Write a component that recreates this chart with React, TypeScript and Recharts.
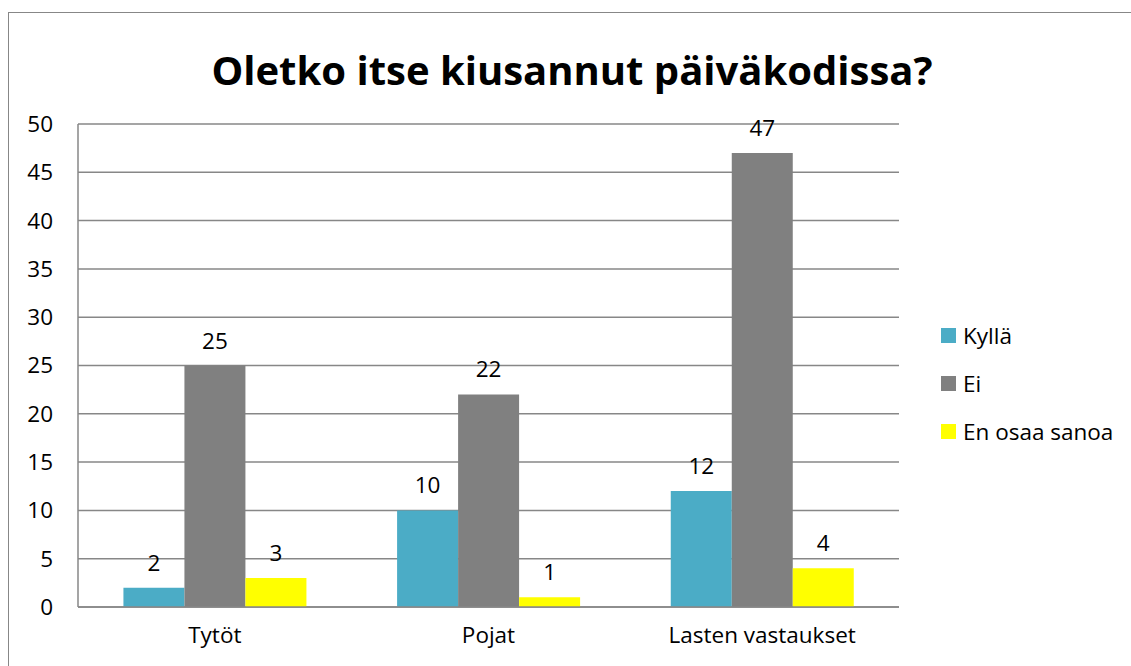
import React from "react";
import { BarChart, Bar, XAxis, YAxis, CartesianGrid, LabelList } from "recharts";

const categories = ["Tytöt", "Pojat", "Lasten vastaukset"];
const kylla = [2, 10, 12];
const ei = [25, 22, 47];
const enOsaa = [3, 1, 4];
const yTicks = [0, 5, 10, 15, 20, 25, 30, 35, 40, 45, 50];

const series = [
  { key: "kylla", name: "Kyllä", color: "#4BACC6" },
  { key: "ei", name: "Ei", color: "#808080" },
  { key: "enOsaa", name: "En osaa sanoa", color: "#FFFF00" },
];

const data = categories.map((c, i) => ({
  name: c,
  kylla: kylla[i],
  ei: ei[i],
  enOsaa: enOsaa[i],
}));

const FONT = "'Open Sans', 'Noto Sans', sans-serif";
const GRID = "#878787";
const FS = 22.5;

// legend kept outside the chart so it doesn't eat plot height
function LegendBox() {
  return (
    <div style={{ fontFamily: FONT, fontSize: FS, color: "#000" }}>
      {series.map((s) => (
        <div key={s.key} style={{ display: "flex", alignItems: "center", height: 48 }}>
          <span style={{ display: "inline-block", width: 15, height: 15, background: s.color, marginRight: 7 }} />
          <span>{s.name}</span>
        </div>
      ))}
    </div>
  );
}

export default function App() {
  return (
    <div style={{ position: "absolute", left: 0, top: 0, width: 1131, height: 666, overflow: "hidden", background: "#fff" }}>
      <div
        style={{
          position: "absolute",
          left: 8,
          top: 12,
          width: 1200,
          height: 800,
          border: `1px solid ${GRID}`,
        }}
      />
      <div
        style={{
          position: "absolute",
          left: 172,
          width: 800,
          top: 42,
          textAlign: "center",
          fontFamily: FONT,
          fontWeight: 700,
          fontSize: 40,
          lineHeight: "56px",
          color: "#000",
        }}
      >
        Oletko itse kiusannut päiväkodissa?
      </div>
      <div style={{ position: "absolute", left: 941, top: 311, width: 190 }}>
        <LegendBox />
      </div>
      <div style={{ position: "absolute", left: 0, top: 0 }}>
        <BarChart
          width={1131}
          height={666}
          data={data}
          margin={{ top: 124, right: 232, left: 28, bottom: 29 }}
          barCategoryGap="16.6%"
          barGap={0}
        >
          <CartesianGrid vertical={false} stroke={GRID} strokeWidth={1.5} />
          <XAxis
            dataKey="name"
            axisLine={{ stroke: GRID, strokeWidth: 1.5 }}
            tickLine={false}
            tickSize={0}
            tickMargin={20}
            height={30}
            tick={{ fontFamily: FONT, fontSize: FS, fill: "#000" }}
          />
          <YAxis
            domain={[0, 50]}
            ticks={yTicks}
            interval={0}
            width={50}
            axisLine={{ stroke: GRID, strokeWidth: 1.5 }}
            tickLine={false}
            tickSize={0}
            tickMargin={25}
            tick={{ fontFamily: FONT, fontSize: FS, fill: "#000" }}
          />
          {series.map((s) => (
            <Bar key={s.key} dataKey={s.key} name={s.name} fill={s.color} isAnimationActive={false}>
              <LabelList
                dataKey={s.key}
                position="top"
                offset={17}
                style={{ fontFamily: FONT, fontSize: FS, fill: "#000" }}
              />
            </Bar>
          ))}
        </BarChart>
      </div>
    </div>
  );
}
